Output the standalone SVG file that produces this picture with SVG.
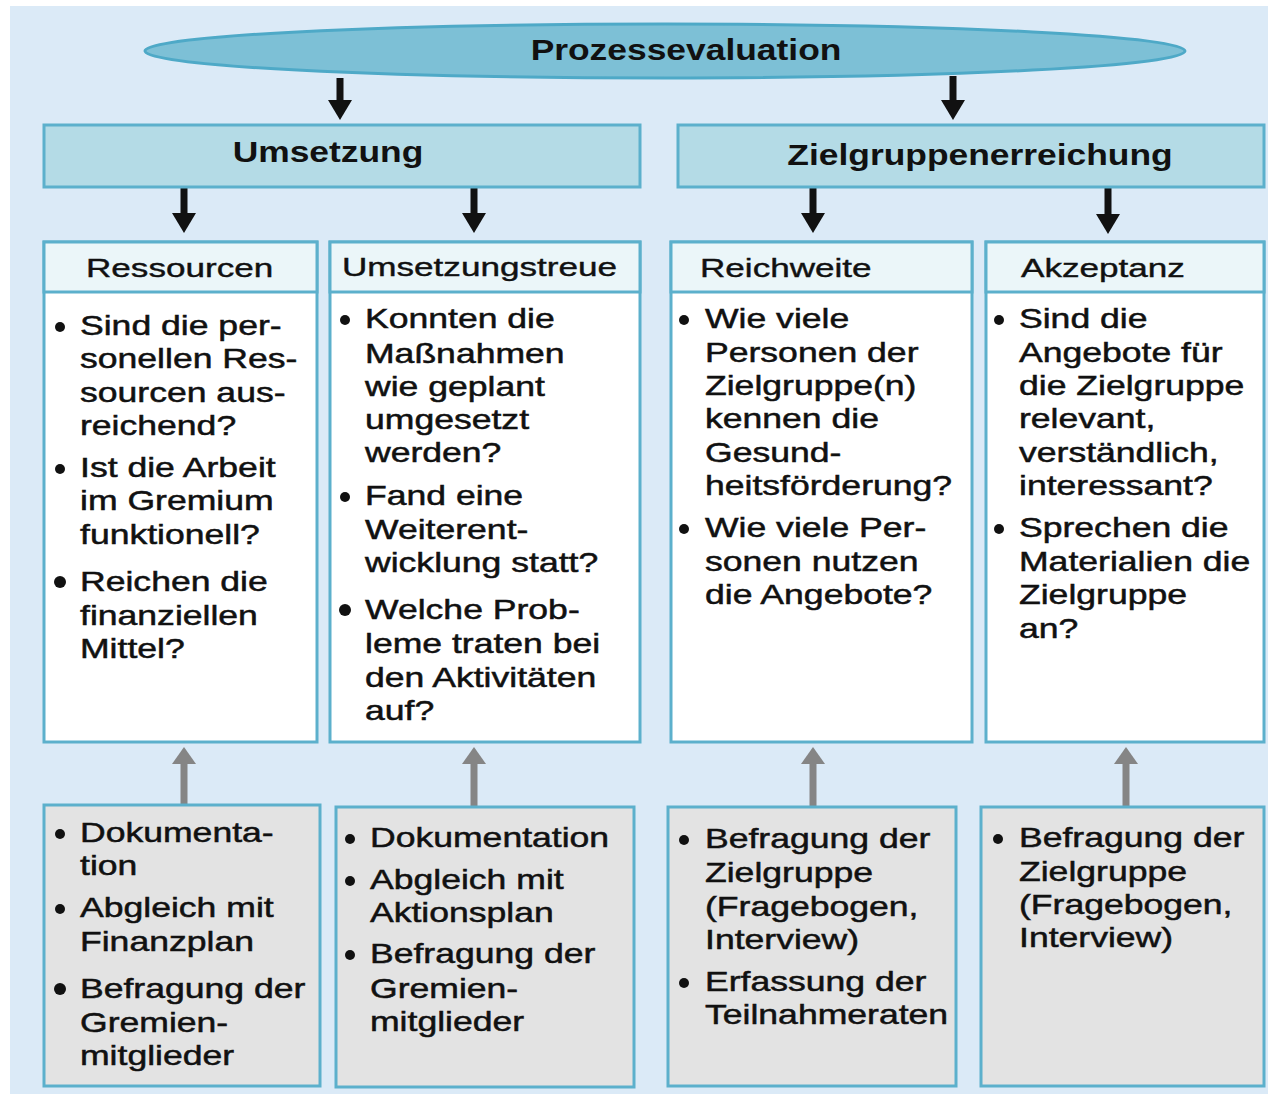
<svg xmlns="http://www.w3.org/2000/svg" width="1270" height="1096" viewBox="0 0 1270 1096">
  <style>
    .bg { fill: #dbeaf7; }
    .lvl1 { fill: #7dc0d6; stroke: #4ea9c7; stroke-width: 3; }
    .lvl2 { fill: #b4dbe6; stroke: #5cb0cc; stroke-width: 3; }
    .head { fill: #ebf6f9; stroke: #5cb0cc; stroke-width: 3; }
    .body { fill: #ffffff; stroke: #5cb0cc; stroke-width: 3; }
    .method { fill: #e3e3e3; stroke: #5cb0cc; stroke-width: 3; }
    .title { font-family: "Liberation Sans", Arial, sans-serif; font-weight: bold; font-size: 30px; fill: #111; text-anchor: middle; }
    .hdr { font-family: "Liberation Sans", Arial, sans-serif; font-size: 26px; fill: #111; stroke: #111; stroke-width: 0.4px; }
    .txt { font-family: "Liberation Sans", Arial, sans-serif; font-size: 28px; fill: #111; stroke: #111; stroke-width: 0.5px; }
    .dot { fill: #111; }
    .down { stroke: #111; stroke-width: 7; fill: none; }
    .up { stroke: #858585; stroke-width: 7; fill: none; }
  </style>
  <defs>
    <!-- heads sit beyond the line end; refX at the base so shafts stay hidden -->
    <marker id="headBlack" markerUnits="userSpaceOnUse" markerWidth="21" markerHeight="24" refX="0" refY="12" orient="auto">
      <path d="M0,0 L20,12 L0,24 Z" fill="#111"/>
    </marker>
    <marker id="headGray" markerUnits="userSpaceOnUse" markerWidth="18" markerHeight="24" refX="0" refY="12" orient="auto">
      <path d="M0,0 L17,12 L0,24 Z" fill="#858585"/>
    </marker>
  </defs>

  <rect class="bg" x="10" y="6" width="1258" height="1088"/>

  <!-- connectors -->
  <g id="connectors">
    <line class="down" x1="340" y1="78" x2="340" y2="100" marker-end="url(#headBlack)"/>
    <line class="down" x1="953" y1="76" x2="953" y2="100" marker-end="url(#headBlack)"/>
    <line class="down" x1="184" y1="188" x2="184" y2="213" marker-end="url(#headBlack)"/>
    <line class="down" x1="474" y1="188" x2="474" y2="213" marker-end="url(#headBlack)"/>
    <line class="down" x1="813" y1="188" x2="813" y2="213" marker-end="url(#headBlack)"/>
    <line class="down" x1="1108" y1="188" x2="1108" y2="214" marker-end="url(#headBlack)"/>
    <line class="up" x1="184" y1="804" x2="184" y2="764" marker-end="url(#headGray)"/>
    <line class="up" x1="474" y1="806" x2="474" y2="764" marker-end="url(#headGray)"/>
    <line class="up" x1="813" y1="806" x2="813" y2="764" marker-end="url(#headGray)"/>
    <line class="up" x1="1126" y1="806" x2="1126" y2="764" marker-end="url(#headGray)"/>
  </g>

  <!-- top level -->
  <g id="prozessevaluation">
    <ellipse class="lvl1" cx="665" cy="51" rx="520" ry="27"/>
    <g transform="translate(686,0) scale(1.18,1)"><text class="title" x="0" y="60">Prozessevaluation</text></g>
  </g>

  <!-- second level -->
  <g id="umsetzung">
    <rect class="lvl2" x="44" y="125" width="596" height="62"/>
    <g transform="translate(328,0) scale(1.18,1)"><text class="title" x="0" y="162">Umsetzung</text></g>
  </g>
  <g id="zielgruppenerreichung">
    <rect class="lvl2" x="678" y="125" width="586" height="62"/>
    <g transform="translate(980,0) scale(1.18,1)"><text class="title" x="0" y="165">Zielgruppenerreichung</text></g>
  </g>

  <!-- criteria columns -->
  <g id="ressourcen">
    <rect class="body" x="44" y="242" width="273" height="500"/>
    <rect class="head" x="44" y="242" width="273" height="50"/>
    <g transform="translate(86,0) scale(1.35,1)"><text class="hdr" x="0" y="277">Ressourcen</text></g>
    <circle class="dot" cx="60" cy="327" r="5"/>
    <circle class="dot" cx="60" cy="469" r="5"/>
    <circle class="dot" cx="60" cy="582" r="6"/>
    <g transform="translate(80,0) scale(1.27,1)">
      <text class="txt" x="0" y="335">Sind die per-</text>
      <text class="txt" x="0" y="368">sonellen Res-</text>
      <text class="txt" x="0" y="402">sourcen aus-</text>
      <text class="txt" x="0" y="435">reichend?</text>
      <text class="txt" x="0" y="477">Ist die Arbeit</text>
      <text class="txt" x="0" y="510">im Gremium</text>
      <text class="txt" x="0" y="544">funktionell?</text>
      <text class="txt" x="0" y="591">Reichen die</text>
      <text class="txt" x="0" y="625">finanziellen</text>
      <text class="txt" x="0" y="658">Mittel?</text>
    </g>
  </g>

  <g id="umsetzungstreue">
    <rect class="body" x="330" y="242" width="310" height="500"/>
    <rect class="head" x="330" y="242" width="310" height="50"/>
    <g transform="translate(342,0) scale(1.35,1)"><text class="hdr" x="0" y="276">Umsetzungstreue</text></g>
    <circle class="dot" cx="345" cy="320" r="5"/>
    <circle class="dot" cx="345" cy="497" r="5"/>
    <circle class="dot" cx="345" cy="610" r="6"/>
    <g transform="translate(365,0) scale(1.27,1)">
      <text class="txt" x="0" y="328">Konnten die</text>
      <text class="txt" x="0" y="363">Maßnahmen</text>
      <text class="txt" x="0" y="396">wie geplant</text>
      <text class="txt" x="0" y="429">umgesetzt</text>
      <text class="txt" x="0" y="462">werden?</text>
      <text class="txt" x="0" y="505">Fand eine</text>
      <text class="txt" x="0" y="539">Weiterent-</text>
      <text class="txt" x="0" y="572">wicklung statt?</text>
      <text class="txt" x="0" y="619">Welche Prob-</text>
      <text class="txt" x="0" y="653">leme traten bei</text>
      <text class="txt" x="0" y="687">den Aktivitäten</text>
      <text class="txt" x="0" y="720">auf?</text>
    </g>
  </g>

  <g id="reichweite">
    <rect class="body" x="671" y="242" width="301" height="500"/>
    <rect class="head" x="671" y="242" width="301" height="50"/>
    <g transform="translate(700,0) scale(1.35,1)"><text class="hdr" x="0" y="277">Reichweite</text></g>
    <circle class="dot" cx="684" cy="320" r="5"/>
    <circle class="dot" cx="684" cy="529" r="5"/>
    <g transform="translate(705,0) scale(1.27,1)">
      <text class="txt" x="0" y="328">Wie viele</text>
      <text class="txt" x="0" y="362">Personen der</text>
      <text class="txt" x="0" y="395">Zielgruppe(n)</text>
      <text class="txt" x="0" y="428">kennen die</text>
      <text class="txt" x="0" y="462">Gesund-</text>
      <text class="txt" x="0" y="495">heitsförderung?</text>
      <text class="txt" x="0" y="537">Wie viele Per-</text>
      <text class="txt" x="0" y="571">sonen nutzen</text>
      <text class="txt" x="0" y="604">die Angebote?</text>
    </g>
  </g>

  <g id="akzeptanz">
    <rect class="body" x="986" y="242" width="278" height="500"/>
    <rect class="head" x="986" y="242" width="278" height="50"/>
    <g transform="translate(1021,0) scale(1.35,1)"><text class="hdr" x="0" y="277">Akzeptanz</text></g>
    <circle class="dot" cx="999" cy="320" r="5"/>
    <circle class="dot" cx="999" cy="529" r="5"/>
    <g transform="translate(1019,0) scale(1.27,1)">
      <text class="txt" x="0" y="328">Sind die</text>
      <text class="txt" x="0" y="362">Angebote für</text>
      <text class="txt" x="0" y="395">die Zielgruppe</text>
      <text class="txt" x="0" y="428">relevant,</text>
      <text class="txt" x="0" y="462">verständlich,</text>
      <text class="txt" x="0" y="495">interessant?</text>
      <text class="txt" x="0" y="537">Sprechen die</text>
      <text class="txt" x="0" y="571">Materialien die</text>
      <text class="txt" x="0" y="604">Zielgruppe</text>
      <text class="txt" x="0" y="638">an?</text>
    </g>
  </g>

  <!-- method boxes -->
  <g id="methoden-ressourcen">
    <rect class="method" x="44" y="805" width="276" height="281"/>
    <circle class="dot" cx="60" cy="834" r="5"/>
    <circle class="dot" cx="60" cy="909" r="5"/>
    <circle class="dot" cx="60" cy="989" r="6"/>
    <g transform="translate(80,0) scale(1.27,1)">
      <text class="txt" x="0" y="842">Dokumenta-</text>
      <text class="txt" x="0" y="875">tion</text>
      <text class="txt" x="0" y="917">Abgleich mit</text>
      <text class="txt" x="0" y="951">Finanzplan</text>
      <text class="txt" x="0" y="998">Befragung der</text>
      <text class="txt" x="0" y="1032">Gremien-</text>
      <text class="txt" x="0" y="1065">mitglieder</text>
    </g>
  </g>

  <g id="methoden-umsetzungstreue">
    <rect class="method" x="336" y="807" width="298" height="280"/>
    <circle class="dot" cx="350" cy="839" r="5"/>
    <circle class="dot" cx="350" cy="881" r="5"/>
    <circle class="dot" cx="350" cy="955" r="5"/>
    <g transform="translate(370,0) scale(1.27,1)">
      <text class="txt" x="0" y="847">Dokumentation</text>
      <text class="txt" x="0" y="889">Abgleich mit</text>
      <text class="txt" x="0" y="922">Aktionsplan</text>
      <text class="txt" x="0" y="963">Befragung der</text>
      <text class="txt" x="0" y="998">Gremien-</text>
      <text class="txt" x="0" y="1031">mitglieder</text>
    </g>
  </g>

  <g id="methoden-reichweite">
    <rect class="method" x="668" y="807" width="288" height="279"/>
    <circle class="dot" cx="684" cy="840" r="5"/>
    <circle class="dot" cx="684" cy="983" r="5"/>
    <g transform="translate(705,0) scale(1.27,1)">
      <text class="txt" x="0" y="848">Befragung der</text>
      <text class="txt" x="0" y="882">Zielgruppe</text>
      <text class="txt" x="0" y="916">(Fragebogen,</text>
      <text class="txt" x="0" y="949">Interview)</text>
      <text class="txt" x="0" y="991">Erfassung der</text>
      <text class="txt" x="0" y="1024">Teilnahmeraten</text>
    </g>
  </g>

  <g id="methoden-akzeptanz">
    <rect class="method" x="981" y="807" width="283" height="279"/>
    <circle class="dot" cx="998" cy="839" r="5"/>
    <g transform="translate(1019,0) scale(1.27,1)">
      <text class="txt" x="0" y="847">Befragung der</text>
      <text class="txt" x="0" y="881">Zielgruppe</text>
      <text class="txt" x="0" y="914">(Fragebogen,</text>
      <text class="txt" x="0" y="947">Interview)</text>
    </g>
  </g>
</svg>
